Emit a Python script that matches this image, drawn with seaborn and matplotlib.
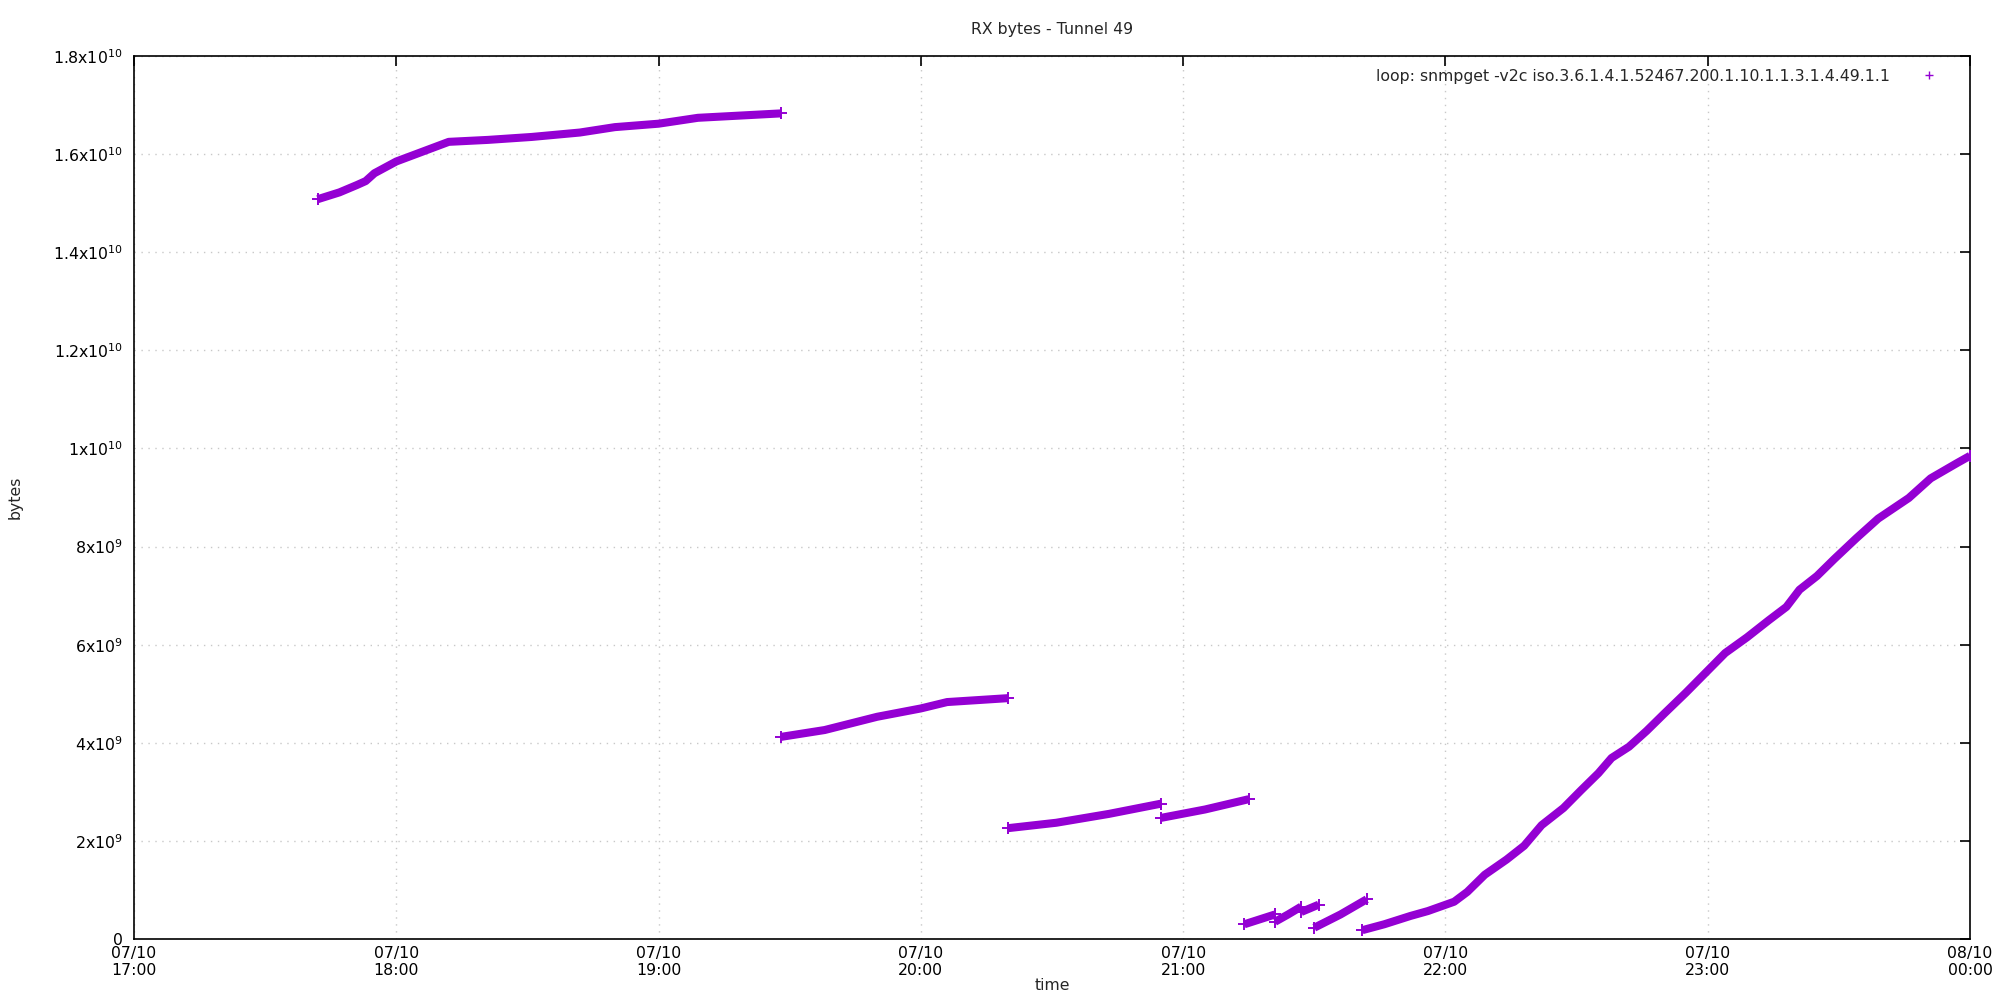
import matplotlib
matplotlib.use("Agg")
import matplotlib.pyplot as plt
import matplotlib.dates as mdates
from matplotlib.lines import Line2D
import seaborn as sns
import pandas as pd

# ---- data ----
seg1_t = ["17:42", "17:47", "17:51", "17:53", "17:55", "18:00", "18:06", "18:12", "18:21", "18:31", "18:42", "18:50", "19:00", "19:09", "19:28"]
seg1_v = [15.08e9, 15.22e9, 15.37e9, 15.45e9, 15.61e9, 15.85e9, 16.05e9, 16.25e9, 16.29e9, 16.35e9, 16.44e9, 16.55e9, 16.62e9, 16.74e9, 16.83e9]
seg2_t = ["19:28", "19:38", "19:50", "20:00", "20:06", "20:20"]
seg2_v = [4.12e9, 4.26e9, 4.53e9, 4.70e9, 4.83e9, 4.91e9]
seg3_t = ["20:20", "20:31", "20:43", "20:55"]
seg3_v = [2.26e9, 2.37e9, 2.55e9, 2.76e9]
seg4_t = ["20:55", "21:05", "21:15"]
seg4_v = [2.47e9, 2.64e9, 2.85e9]
seg5_t = ["21:14", "21:21"]
seg5_v = [0.30e9, 0.50e9]
seg6_t = ["21:21", "21:24", "21:27"]
seg6_v = [0.35e9, 0.50e9, 0.66e9]
seg7_t = ["21:27", "21:31"]
seg7_v = [0.55e9, 0.70e9]
seg8_t = ["21:30", "21:36", "21:42"]
seg8_v = [0.23e9, 0.50e9, 0.81e9]
seg9_t = ["21:41", "21:46", "21:52", "21:56", "22:02", "22:05", "22:09", "22:14", "22:18", "22:22",
          "22:27", "22:31", "22:35", "22:38", "22:42", "22:46", "22:50", "22:55", "22:58", "23:01",
          "23:04", "23:09", "23:14", "23:18", "23:21", "23:25", "23:29", "23:34", "23:39", "23:46",
          "23:51", "23:57", "24:00"]
seg9_v = [0.18e9, 0.30e9, 0.47e9, 0.57e9, 0.76e9, 0.96e9, 1.31e9, 1.62e9, 1.90e9, 2.32e9,
          2.67e9, 3.03e9, 3.38e9, 3.69e9, 3.92e9, 4.24e9, 4.59e9, 5.02e9, 5.29e9, 5.56e9,
          5.83e9, 6.15e9, 6.50e9, 6.77e9, 7.12e9, 7.40e9, 7.75e9, 8.17e9, 8.57e9, 8.99e9,
          9.39e9, 9.70e9, 9.85e9]

segments = [(seg1_t, seg1_v), (seg2_t, seg2_v), (seg3_t, seg3_v), (seg4_t, seg4_v), (seg5_t, seg5_v),
            (seg6_t, seg6_v), (seg7_t, seg7_v), (seg8_t, seg8_v), (seg9_t, seg9_v)]

y_ticks = [0, 2e9, 4e9, 6e9, 8e9, 1e10, 1.2e10, 1.4e10, 1.6e10, 1.8e10]
y_labels = ["0", "2x10$^{9}$", "4x10$^{9}$", "6x10$^{9}$", "8x10$^{9}$", "1x10$^{10}$",
            "1.2x10$^{10}$", "1.4x10$^{10}$", "1.6x10$^{10}$", "1.8x10$^{10}$"]
legend_label = "loop: snmpget -v2c iso.3.6.1.4.1.52467.200.1.10.1.1.3.1.4.49.1.1"
title = "RX bytes - Tunnel 49"

COLOR = "#9400d3"
FS = 11.3


def to_ts(t):
    h, m = t.split(":")
    base = pd.Timestamp("2023-10-07 00:00")
    return base + pd.Timedelta(hours=int(h), minutes=int(m))


rows = []
for i, (ts, vs) in enumerate(segments):
    for t, v in zip(ts, vs):
        rows.append({"time": to_ts(t), "bytes": v, "seg": i})
df = pd.DataFrame(rows)
ends = pd.concat([df.groupby("seg").head(1), df.groupby("seg").tail(1)])

sns.set_theme(style="white")
plt.rcParams["font.family"] = ["DejaVu Sans"]
plt.rcParams["mathtext.default"] = "regular"

fig = plt.figure(figsize=(20, 10), dpi=100)
ax = fig.add_axes([0.067, 0.061, 0.918, 0.883])

sns.lineplot(data=df, x="time", y="bytes", units="seg", estimator=None, color=COLOR,
             lw=5.8, solid_capstyle="butt", solid_joinstyle="round", ax=ax, legend=False)
sns.scatterplot(data=ends, x="time", y="bytes", marker="+", s=80, linewidth=1.4,
                color=COLOR, ax=ax, legend=False, zorder=3)

ax.set_xlim(to_ts("17:00"), to_ts("24:00"))
ax.set_ylim(0, 1.8e10)
ax.set_yticks(y_ticks)
ax.set_yticklabels(y_labels)
ax.xaxis.set_major_locator(mdates.HourLocator())
ax.xaxis.set_major_formatter(mdates.DateFormatter("%d/%m\n%H:%M"))

ax.grid(True, color="#c8c8c8", linestyle=(0, (1, 4)), lw=1)
for s in ax.spines.values():
    s.set_color("black")
    s.set_linewidth(1.2)
ax.tick_params(axis="both", direction="in", length=7, width=1.2, colors="black",
               labelsize=FS, top=True, right=True, labelcolor="black")
ax.tick_params(axis="y", pad=8)
ax.tick_params(axis="x", pad=5)

ax.set_title(title, fontsize=FS, pad=16)
ax.set_xlabel("time", fontsize=FS, labelpad=0)
ax.set_ylabel("bytes", fontsize=FS, labelpad=22)

handle = Line2D([], [], color=COLOR, marker="+", linestyle="none", markersize=6, markeredgewidth=1)
ax.legend([handle], [legend_label], loc="upper right", frameon=False, markerfirst=False,
          fontsize=FS, handletextpad=1.5, borderaxespad=0.4, bbox_to_anchor=(0.993, 1.0))

fig.savefig("out.png", dpi=100)
